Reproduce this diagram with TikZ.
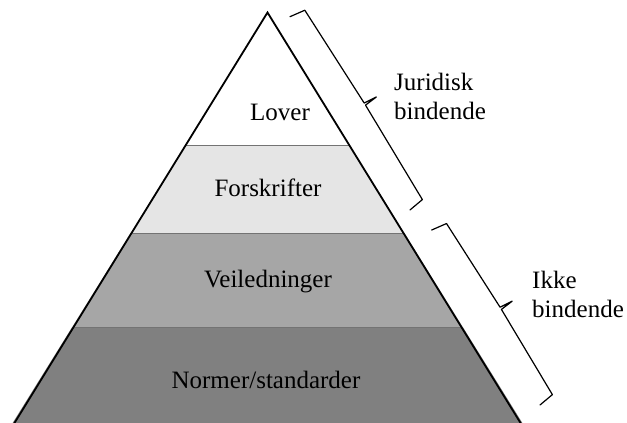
\documentclass[tikz,border=0pt]{standalone}
\usepackage{fontspec}
\setmainfont{Liberation Serif}
\begin{document}
\begin{tikzpicture}[x=1pt,y=-1pt,
  layerline/.style={draw=black!55,line width=0.8pt},
  lbl/.style={font=\fontsize{25}{29}\selectfont,inner sep=0pt},
  sidelbl/.style={font=\fontsize{25}{29}\selectfont,inner sep=0pt,align=left,anchor=west},
  bracestyle/.style={draw=black,line width=1.2pt,line join=round,line cap=round},
  outline/.style={draw=black,line width=1.8pt,line join=miter}]
\useasboundingbox (0,0) rectangle (627,423);
\begin{scope}
\clip (0,0) rectangle (627,423);
% apex and base
\coordinate (apex) at (267.5,12.5);
\coordinate (bl) at (12.6,423);
\coordinate (br) at (522.4,423);
% layer fills
\fill[white] (apex) -- (185.2,145) -- (349.8,145) -- cycle;
\fill[fill=black!10] (185.2,145) -- (349.8,145) -- (404.4,233) -- (130.6,233) -- cycle;
\fill[fill=black!35] (130.6,233) -- (404.4,233) -- (462.8,327) -- (72.2,327) -- cycle;
\fill[fill=black!50] (72.2,327) -- (462.8,327) -- (br) -- (bl) -- cycle;
% dividers
\draw[layerline] (185.2,145) -- (349.8,145);
\draw[layerline] (130.6,233) -- (404.4,233);
\draw[layerline] (72.2,327) -- (462.8,327);
% outline
\draw[outline] ([yshift=-3pt]bl) -- (apex) -- ([yshift=-3pt]br);
\end{scope}
% labels
\node[lbl] (lover) at (280,112) {Lover};
\node[lbl] (forskrifter) at (268,188) {Forskrifter};
\node[lbl] (veiledninger) at (268,282) {Veiledninger};
\node[lbl] (normer) at (266,380) {Normer/standarder};
% upper brace
\begin{scope}[shift={(290,16.7)},rotate=-58.17]
\draw[bracestyle] (0,0) -- (2.3,-16) -- (112.5,-17.5) -- (113.75,-31) -- (115,-17.5) -- (225.2,-16) -- (227.5,0);
\end{scope}
\node[sidelbl] (jur) at (394,96) {Juridisk\\bindende};
% lower brace
\begin{scope}[shift={(431.7,230)},rotate=-58.25]
\draw[bracestyle] (0,0) -- (2.3,-16) -- (101.6,-17.5) -- (102.9,-31) -- (104.2,-17.5) -- (203.5,-16) -- (205.8,0);
\end{scope}
\node[sidelbl] (ikke) at (532,294) {Ikke\\bindende};
\end{tikzpicture}
\end{document}
